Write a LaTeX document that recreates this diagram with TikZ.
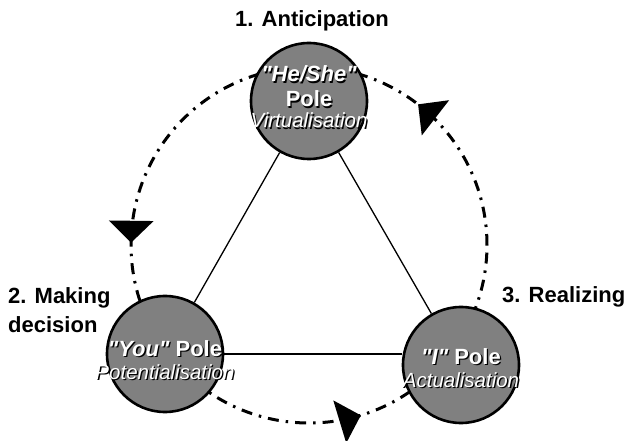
\documentclass[tikz,border=0pt]{standalone}
\usepackage{fontspec}
\setmainfont{Liberation Sans}[Ligatures=TeXOff]
\usepackage{tikz}
\usetikzlibrary{arrows.meta}
\usetikzlibrary{decorations.markings}
\definecolor{PoleGray}{RGB}{128,128,128}
\newcommand{\SubTextFont}{\fontsize{20.5}{21}\selectfont\mdseries\itshape}
\tikzstyle{PoleNode}=[circle,draw=black,fill=PoleGray,line width=2.6pt,minimum size=116pt,inner sep=0pt]
\tikzstyle{PoleText}=[text=white,align=center,inner sep=0pt,font=\fontsize{22}{25}\selectfont\bfseries]
\tikzstyle{PoleShadow}=[PoleText,text=black,xshift=1.3pt,yshift=-1.3pt]
\tikzstyle{StageLabel}=[inner sep=0pt,font=\fontsize{22}{29}\selectfont\bfseries]
\tikzstyle{LinkEdge}=[black,line width=1.3pt]
\tikzstyle{CycleEdge}=[black,line width=3pt,dash pattern=on 11pt off 7pt on 2.5pt off 7pt]
\newcommand{\HeText}{{\itshape"He/She"}\\Pole\\[-4pt]{\SubTextFont Virtualisation}}
\newcommand{\YouText}{{\itshape"You"} Pole\\[-2pt]{\SubTextFont Potentialisation}}
\newcommand{\MeText}{{\itshape"I"} Pole\\[-2pt]{\SubTextFont Actualisation}}

\begin{document}
\begin{tikzpicture}[x=1pt,y=1pt]
        \useasboundingbox (0,0) rectangle (625,440);
        % cycle behind the poles
        \coordinate (cyc) at (309,195);
        \draw[CycleEdge,postaction={decorate},decoration={markings,
            mark=at position 0.145 with {\arrow[solid]{Triangle[width=44pt,length=22pt]}},
            mark=at position 0.498 with {\arrow[solid]{Triangle[width=44pt,length=22pt]}},
            mark=at position 0.797 with {\arrow[solid]{Triangle[width=44pt,length=22pt]}}}]
            ([shift={(0:178)}]cyc) arc[start angle=0,end angle=360,radius=178];
        % poles
        \node[PoleNode](he)at(309,339){};
        \node[PoleNode](you)at(165,86){};
        \node[PoleNode](me)at(461,75){};
        \draw[LinkEdge](he)--(you);
        \draw[LinkEdge](he)--(me);
        \draw[LinkEdge](you.east)--(you.east -| me.west);
        % shadowed pole texts
        \node[PoleShadow](heShadow)at([yshift=4pt]he.center){\HeText};
        \node[PoleText](heText)at([yshift=4pt]he.center){\HeText};
        \node[PoleShadow](youShadow)at([yshift=-6pt]you.center){\YouText};
        \node[PoleText](youText)at([yshift=-6pt]you.center){\YouText};
        \node[PoleShadow](meShadow)at([yshift=-3pt]me.center){\MeText};
        \node[PoleText](meText)at([yshift=-3pt]me.center){\MeText};
        % stages
        \node[StageLabel](antic)at(312,419){1. Anticipation};
        \node[StageLabel,anchor=west,align=left](decide)at(8,130){2. Making\\decision};
        \node[StageLabel,anchor=west](real)at(502,143){3. Realizing};
    \end{tikzpicture}
\end{document}
